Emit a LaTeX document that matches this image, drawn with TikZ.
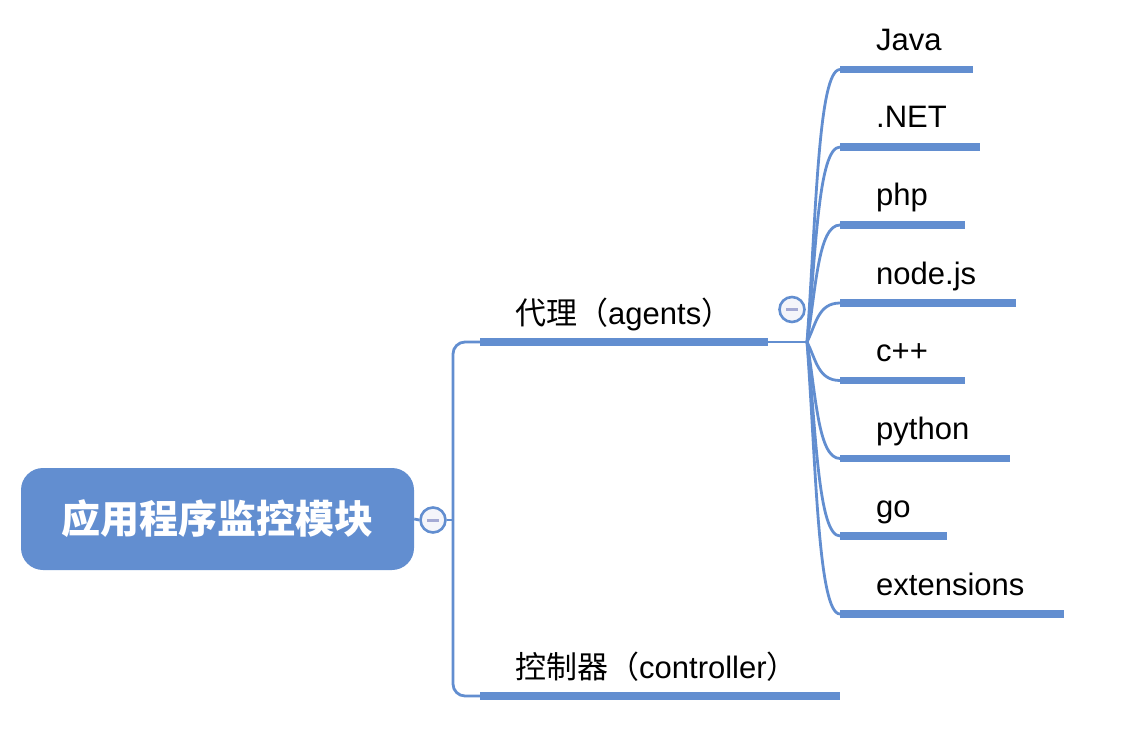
\documentclass[tikz,border=0pt]{standalone}
\usepackage{fontspec}
\setmainfont{Liberation Sans}
\newfontfamily\cjk{Noto Sans CJK SC}
\usetikzlibrary{positioning}
\definecolor{mapblue}{HTML}{628ED0}
\definecolor{foldfill}{HTML}{F4F5FA}
\definecolor{foldmark}{HTML}{A4AAD4}

\begin{document}
\begin{tikzpicture}[
  x=1pt, y=-1pt,
  root/.style={rectangle, rounded corners=22pt, fill=mapblue, text=white,
               minimum width=393pt, minimum height=102pt,
               font=\cjk\bfseries\fontsize{39}{39}\selectfont},
  bar/.style={rectangle, fill=mapblue, inner sep=0pt, minimum height=7.5pt,
              anchor=west},
  leaf/.style={anchor=base west, inner sep=0pt,
               font=\fontsize{31}{31}\selectfont},
  twig/.style={draw=mapblue, line width=2.8pt},
  fold/.style={circle, draw=mapblue, line width=2.6pt, fill=foldfill,
               minimum size=25pt, inner sep=0pt,
               path picture={\draw[foldmark, line width=3pt]
                 ([xshift=-6pt]path picture bounding box.center) --
                 ([xshift=6pt]path picture bounding box.center);}},
]
  \useasboundingbox (0,0) rectangle (1132,746);

  % Root and its two branches
  \node[root] (app) at (217.5,519) {应用程序监控模块};
  \node[fold] (rootfold) at (433,520) {};
  \coordinate (trunk) at (453,520);
  \node[bar, minimum width=288pt] (agt) at (480,342) {};
  \node[bar, minimum width=360pt] (ctl) at (480,696) {};
  \node[leaf] (agt text) at ([shift={(35,-18)}]agt.west) {{\cjk 代理（}agents{\cjk ）}};
  \node[leaf] (ctl text) at ([shift={(35,-18)}]ctl.west) {{\cjk 控制器（}controller{\cjk ）}};

  \draw[twig] (app.east) -- (rootfold.west);
  \draw[twig] (rootfold.east) -- (trunk);
  \draw[twig, rounded corners=12pt] (agt.west) -| (trunk) |- (ctl.west);

  % Agents: one bar per language
  \coordinate (jct) at (807,342);
  \draw[twig] (agt.east) -- (jct);
  \foreach \n/\y/\w/\t in {java/69.5/133/Java, net/147/140/.NET, php/225/125/php,
      node/303/176/node.js, cpp/380.5/125/c++, py/458.5/170/python,
      go/536/107/go, ext/614/224/extensions}{
    \node[bar, minimum width=\w pt] (\n) at (840,\y) {};
    \node[leaf] (\n text) at ([shift={(36,-19)}]\n.west) {\t};
    \draw[twig] (jct) .. controls +(9,{0.45*(\y-342)}) and +(-22,0) .. (\n.west);
  }
  \node[fold] (agtfold) at (792,309.5) {};
\end{tikzpicture}
\end{document}
